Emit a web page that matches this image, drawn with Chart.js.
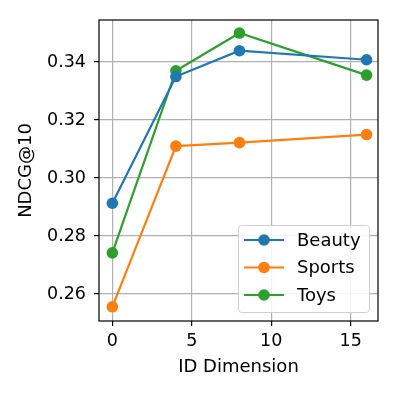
<!DOCTYPE html>
<html>
<head>
<meta charset="utf-8">
<script src="https://cdn.jsdelivr.net/npm/chart.js@4.4.1/dist/chart.umd.min.js"></script>
<style>
  html, body { margin: 0; padding: 0; background: #fff; }
  #wrap { width: 399px; height: 399px; }
</style>
</head>
<body>
<div id="wrap"><canvas id="miGrafica" width="399" height="399"></canvas></div>
<script>
// datos
var dims = [0, 4, 8, 16]
var beauty = [0.2913, 0.3350, 0.3439, 0.3408]
var sports = [0.2556, 0.3110, 0.3122, 0.3150]
var toys = [0.2742, 0.3370, 0.3500, 0.3355]
var xTicks = [0, 5, 10, 15]
var yTicks = [0.26, 0.28, 0.30, 0.32, 0.34]

var fuente = "'DejaVu Sans', sans-serif"

function serie(nombre, valores, color) {
  return {
    label: nombre,
    data: dims.map((d, i) => ({ x: d, y: valores[i] })),
    borderColor: color,
    backgroundColor: color,
    borderWidth: 2.2,
    pointRadius: 5.8,
    pointHoverRadius: 5.8,
    pointBorderWidth: 0,
    tension: 0
  }
}

// marco negro y leyenda al estilo matplotlib
var marco = {
  id: 'marco',
  afterDraw: function (chart) {
    var ctx = chart.ctx
    var a = chart.chartArea
    ctx.save()
    ctx.strokeStyle = '#000'
    ctx.lineWidth = 1.2
    ctx.strokeRect(a.left, a.top, a.right - a.left, a.bottom - a.top)

    // leyenda
    var x0 = 238, y0 = 225, w = 131, h = 87
    ctx.fillStyle = 'rgba(255,255,255,0.85)'
    ctx.strokeStyle = '#d0d0d0'
    ctx.lineWidth = 1
    ctx.beginPath()
    ctx.roundRect(x0 + 0.5, y0 + 0.5, w, h, 3)
    ctx.fill()
    ctx.stroke()
    ctx.font = '18px ' + fuente
    ctx.textBaseline = 'middle'
    chart.data.datasets.forEach(function (ds, i) {
      var yy = 240 + i * 27.5
      ctx.strokeStyle = ds.borderColor
      ctx.lineWidth = 2.2
      ctx.beginPath()
      ctx.moveTo(244, yy)
      ctx.lineTo(284, yy)
      ctx.stroke()
      ctx.fillStyle = ds.borderColor
      ctx.beginPath()
      ctx.arc(264, yy, 5.8, 0, Math.PI * 2)
      ctx.fill()
      ctx.fillStyle = '#000'
      ctx.fillText(ds.label, 297, yy + 1)
    })
    ctx.restore()
  }
}

new Chart("miGrafica", {
  type: "line",
  data: {
    datasets: [
      serie("Beauty", beauty, "#1f77b4"),
      serie("Sports", sports, "#ff7f0e"),
      serie("Toys", toys, "#2ca02c")
    ]
  },
  options: {
    responsive: false,
    animation: false,
    events: [],
    layout: { padding: { top: 20, right: 21, bottom: 21, left: 16 } },
    plugins: {
      legend: { display: false },
      tooltip: { enabled: false }
    },
    scales: {
      x: {
        type: "linear",
        min: -0.84,
        max: 16.72,
        afterBuildTicks: function (s) { s.ticks = xTicks.map(v => ({ value: v })) },
        afterFit: function (s) { s.height = 399 - 21 - 321 },
        ticks: { color: '#000', font: { family: fuente, size: 17.5 }, padding: 5, maxRotation: 0 },
        grid: { color: '#b0b0b0', lineWidth: 1.2, tickColor: '#000', tickLength: 5 },
        border: { display: false },
        title: { display: true, text: "ID Dimension", color: '#000', font: { family: fuente, size: 18 }, padding: { top: 0, bottom: 0 } }
      },
      y: {
        min: 0.2507,
        max: 0.3545,
        afterBuildTicks: function (s) { s.ticks = yTicks.map(v => ({ value: v })) },
        afterFit: function (s) { s.width = 99 - 16 },
        ticks: { color: '#000', font: { family: fuente, size: 17.5 }, padding: 8, callback: v => v.toFixed(2) },
        grid: { color: '#b0b0b0', lineWidth: 1.2, tickColor: '#000', tickLength: 5 },
        border: { display: false },
        title: { display: true, text: "NDCG@10", color: '#000', font: { family: fuente, size: 18 }, padding: { top: 0, bottom: 0 } }
      }
    }
  },
  plugins: [marco]
});
</script>
</body>
</html>
